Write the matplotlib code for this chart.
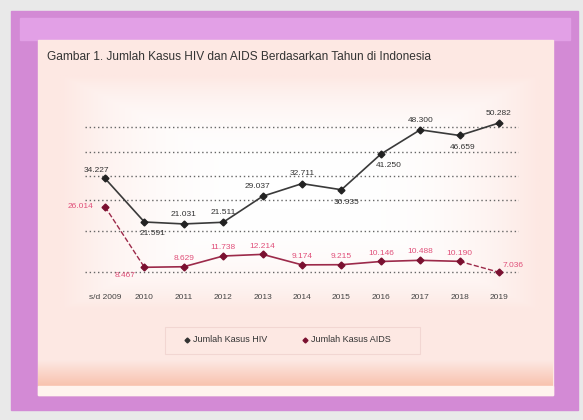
import matplotlib.pyplot as plt
import numpy as np
from matplotlib.patches import Rectangle
from matplotlib.colors import LinearSegmentedColormap

# Data
tahun = ['s/d 2009', '2010', '2011', '2012', '2013', '2014',
         '2015', '2016', '2017', '2018', '2019']
kasus_hiv = [34227, 21591, 21031, 21511, 29037, 32711,
             30935, 41250, 48300, 46659, 50282]
kasus_aids = [26014, 8467, 8629, 11738, 12214, 9174,
              9215, 10146, 10488, 10190, 7036]
garis_grid = [7000, 19000, 28000, 35000, 42000, 49000]

# posisi label (offset dalam point)
off_hiv = [(-6, 6), (6, -8), (0, 7), (0, 7), (-4, 7), (0, 7),
           (4, -9), (6, -8), (0, 7), (2, -9), (0, 7)]
off_aids = [(-18, 0), (-14, -6), (0, 6), (0, 6), (0, 6), (0, 6),
            (0, 6), (0, 6), (0, 6), (0, 6), (10, 5)]

plt.rcParams['font.family'] = ['Liberation Sans', 'DejaVu Sans']

W, H = 583, 420
fig = plt.figure(figsize=(W / 100, H / 100), dpi=100)
fig.patch.set_facecolor('#e9e9e9')

# bingkai ungu dan panel dalam
bg = fig.add_axes([0, 0, 1, 1])
bg.set_xlim(0, W)
bg.set_ylim(H, 0)
bg.axis('off')
bg.add_patch(Rectangle((11, 11), 567, 399, color='#d38ad5'))
bg.add_patch(Rectangle((20, 18), 550, 22, color='#e2a0e6'))
bg.add_patch(Rectangle((38, 40), 515, 355, color='#fde8e3'))

# gradasi lembut di tengah (area plot lebih putih)
yy, xx = np.mgrid[-1:1:120j, -1:1:200j]
r = np.clip(np.maximum(np.abs(xx) ** 3, np.abs(yy) ** 3), 0, 1)
cm_mid = LinearSegmentedColormap.from_list('m', ['#ffffff', '#fde8e3'])
bg.imshow(r, extent=(60, 540, 310, 75), cmap=cm_mid, aspect='auto', zorder=1)

grad = np.linspace(0, 1, 50).reshape(-1, 1)
cm_bot = LinearSegmentedColormap.from_list('g', ['#fde8e3', '#f8c2ae'])
bg.imshow(grad, extent=(38, 553, 386, 360), cmap=cm_bot, aspect='auto', zorder=1)
bg.add_patch(Rectangle((38, 386), 515, 9, color='#fff3ee', zorder=2))
bg.add_patch(Rectangle((165, 327), 255, 27, facecolor='none',
                       edgecolor='#f2d6d2', linewidth=0.8, zorder=2))
bg.text(47, 57, 'Gambar 1. Jumlah Kasus HIV dan AIDS Berdasarkan Tahun di Indonesia',
        fontsize=8.6, color='#333333', va='center', ha='left', zorder=3)

ax = fig.add_axes([0.1463, 0.294, 0.7434, 0.452])
ax.patch.set_alpha(0)
x = np.arange(len(tahun))

for g in garis_grid:
    ax.axhline(g, color='#666666', linestyle=(0, (1, 2)), linewidth=1.0, zorder=1)

ax.plot(x[:2], kasus_aids[:2], color='#9c2a4a', linestyle='--', linewidth=1.0, zorder=2)
ax.plot(x[1:-1], kasus_aids[1:-1], color='#9c2a4a', linewidth=1.2, zorder=2)
ax.plot(x[-2:], kasus_aids[-2:], color='#9c2a4a', linestyle='--', linewidth=1.0, zorder=2)
ax.plot(x, kasus_aids, linestyle='none', marker='D', markersize=3.5,
        color='#7a1030', zorder=3)

ax.plot(x, kasus_hiv, color='#3a3a3a', linewidth=1.2, zorder=2)
ax.plot(x, kasus_hiv, linestyle='none', marker='D', markersize=3.5,
        color='#222222', zorder=3)

for i in range(len(x)):
    ax.annotate(f'{kasus_hiv[i]:,}'.replace(',', '.'), (x[i], kasus_hiv[i]),
                xytext=off_hiv[i], textcoords='offset points',
                ha='center', va='center', fontsize=6, color='#333333')
    ax.annotate(f'{kasus_aids[i]:,}'.replace(',', '.'), (x[i], kasus_aids[i]),
                xytext=off_aids[i], textcoords='offset points',
                ha='center', va='center', fontsize=6, color='#e0507a')

ax.set_xlim(-0.5, len(x) - 0.5)
ax.set_ylim(0, 55000)
ax.set_xticks(x)
ax.set_xticklabels(tahun, fontsize=6, color='#444444')
ax.tick_params(axis='x', length=0, pad=-2)
ax.set_yticks([])
for s in ax.spines.values():
    s.set_visible(False)

# legenda
bg.plot([187], [340], marker='D', markersize=2.5, color='#333333', zorder=3)
bg.text(193, 340, 'Jumlah Kasus HIV', fontsize=6.5, color='#333333', va='center', zorder=3)
bg.plot([305], [340], marker='D', markersize=2.5, color='#7a1030', zorder=3)
bg.text(311, 340, 'Jumlah Kasus AIDS', fontsize=6.5, color='#333333', va='center', zorder=3)

fig.savefig('out.png', dpi=100, facecolor=fig.get_facecolor())
